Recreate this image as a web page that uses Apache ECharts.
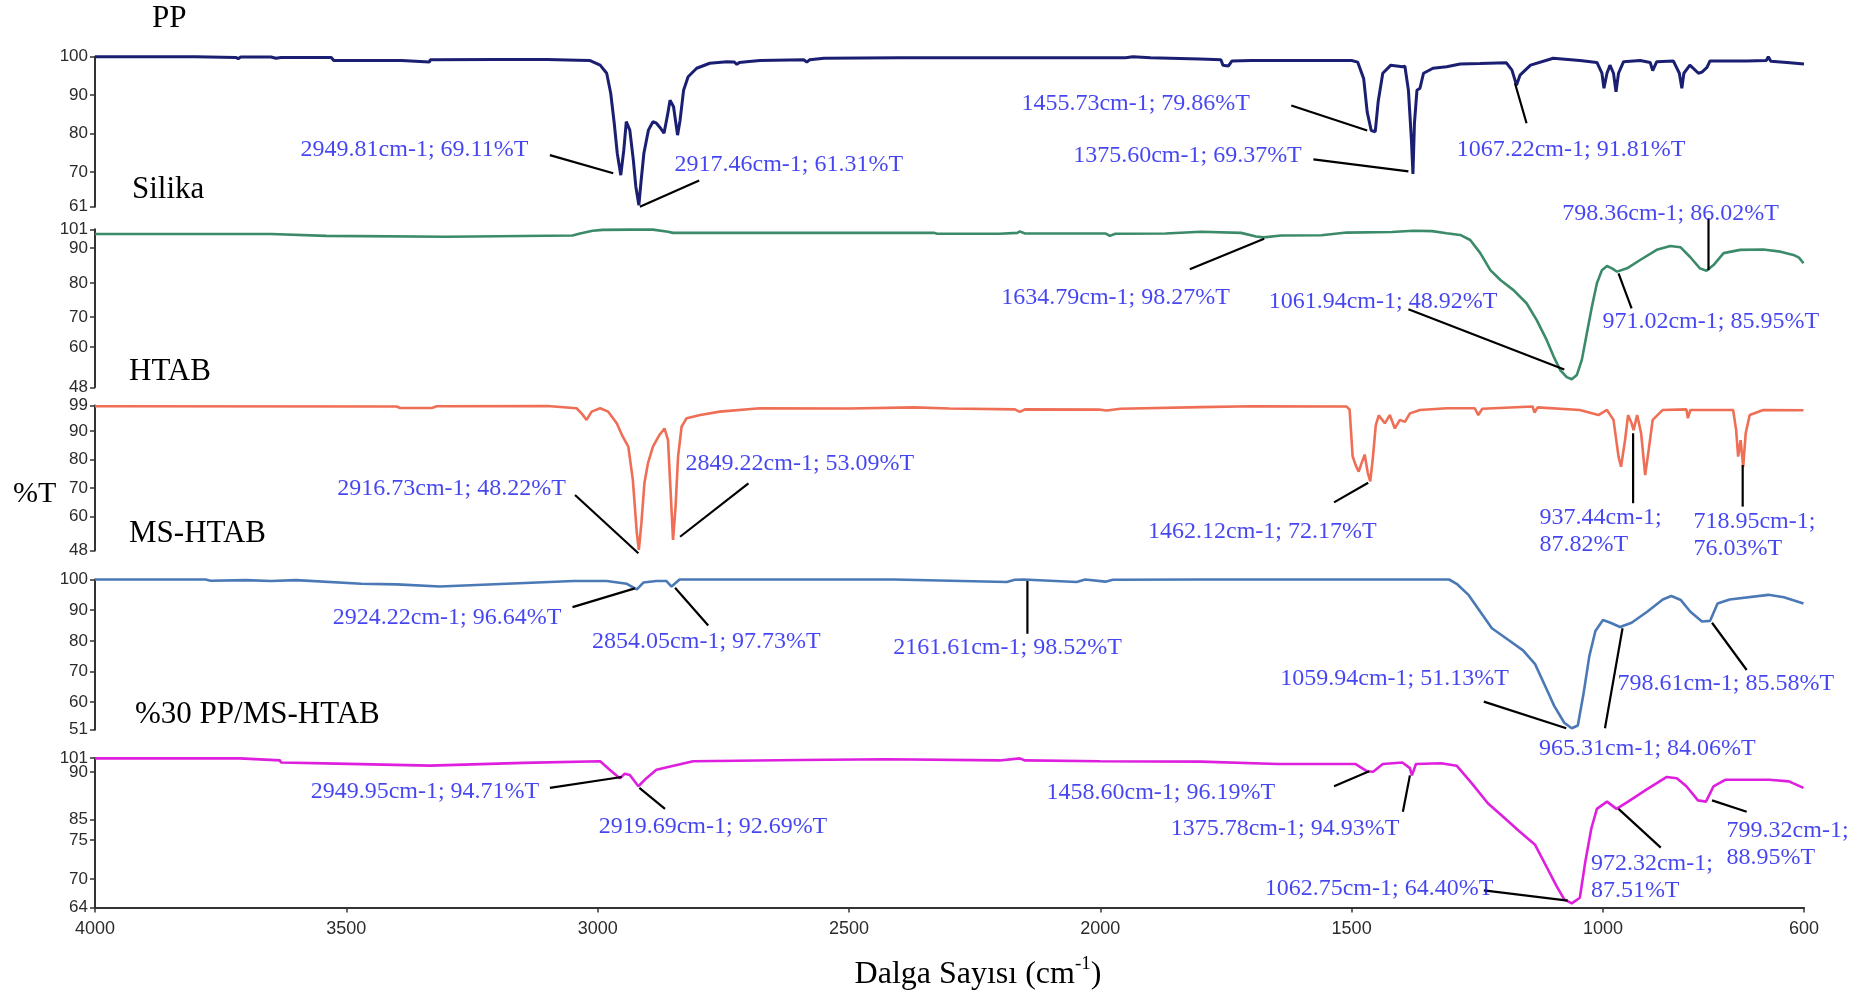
<!DOCTYPE html>
<html>
<head>
<meta charset="utf-8">
<title>FTIR</title>
<script src="https://cdn.jsdelivr.net/npm/echarts@6/dist/echarts.min.js"></script>
<style>
  html, body { margin: 0; padding: 0; background: #fff; }
  #chart { width: 1870px; height: 995px; }
</style>
</head>
<body>
<div id="chart"></div>
<script>
// [wavenumber cm-1, %T]
const ppData = [
  [4000, 100.0], [3800, 100.0], [3720, 99.8], [3715, 99.5], [3710, 99.9], [3650, 99.9], [3640, 99.6], [3630, 99.8],
  [3530, 99.8], [3525, 99.0], [3390, 99.0], [3388, 98.6], [3335, 98.6], [3333, 99.2], [3200, 99.3], [3100, 99.3],
  [3040, 99.1], [3015, 99.0], [2995, 97.8], [2982, 95.7], [2974, 90.5], [2967, 82.7], [2961, 74.9], [2954, 69.2],
  [2948, 75.7], [2943, 83.1], [2936, 80.9], [2929, 73.1], [2924, 66.2], [2918, 61.4], [2914, 67.1], [2908, 74.9],
  [2899, 80.9], [2890, 83.1], [2883, 82.7], [2876, 81.6], [2868, 80.1], [2861, 84.8], [2856, 88.7], [2849, 87.0],
  [2841, 79.6], [2836, 83.5], [2829, 91.3], [2820, 94.8], [2803, 97.0], [2777, 98.3], [2743, 98.7], [2728, 98.6],
  [2723, 98.0], [2718, 98.5], [2704, 98.7], [2677, 99.0], [2590, 99.2], [2584, 98.6], [2578, 99.2], [2550, 99.6],
  [2400, 99.7], [2200, 99.7], [1950, 99.7], [1935, 100.0], [1900, 99.7], [1802, 99.4], [1760, 99.2], [1756, 97.8],
  [1745, 97.6], [1738, 98.9], [1700, 99.0], [1600, 99.0], [1500, 99.0], [1488, 98.6], [1476, 94.3], [1469, 85.6],
  [1461, 80.8], [1453, 80.5], [1447, 88.5], [1438, 95.7], [1422, 97.8], [1399, 97.4], [1394, 97.5], [1387, 91.3],
  [1381, 78.3], [1378, 69.5], [1375, 82.7], [1370, 91.3], [1364, 91.8], [1357, 95.7], [1338, 97.0], [1311, 97.4],
  [1284, 98.1], [1245, 98.2], [1192, 98.4], [1181, 96.5], [1172, 92.6], [1165, 95.2], [1144, 97.8], [1099, 99.6],
  [1046, 99.0], [1012, 98.5], [1002, 95.7], [998, 91.8], [992, 95.7], [986, 97.8], [979, 95.7], [974, 90.9],
  [969, 95.7], [959, 98.7], [926, 99.0], [906, 98.5], [901, 96.4], [893, 98.7], [860, 98.9], [848, 95.7],
  [843, 91.8], [839, 95.7], [827, 97.8], [810, 95.7], [803, 96.0], [793, 97.2], [787, 98.9], [714, 98.9],
  [675, 99.0], [671, 100.0], [666, 98.8], [634, 98.5], [600, 98.1]
];
const silikaData = [
  [4000, 99.4], [3650, 99.4], [3648, 98.8], [3540, 98.8], [3539, 98.4], [3300, 98.5], [3050, 98.9], [3035, 99.6],
  [3010, 100.5], [2990, 100.8], [2936, 100.9], [2890, 100.9], [2860, 100.2], [2850, 99.8], [2600, 99.8], [2330, 99.8],
  [2325, 99.5], [2200, 99.5], [2165, 99.8], [2160, 100.3], [2150, 99.6], [1990, 99.6], [1981, 98.8], [1970, 99.5],
  [1870, 99.6], [1800, 100.2], [1720, 99.8], [1690, 98.6], [1675, 98.3], [1640, 98.9], [1560, 99.0], [1510, 99.9],
  [1420, 100.1], [1377, 100.5], [1340, 100.4], [1311, 99.7], [1284, 99.1], [1264, 97.4], [1244, 93.0], [1224, 87.3],
  [1204, 84.0], [1178, 80.6], [1152, 76.2], [1132, 70.6], [1112, 63.9], [1098, 58.3], [1085, 53.8], [1072, 51.4],
  [1062, 50.7], [1052, 52.1], [1042, 57.2], [1032, 66.1], [1022, 75.0], [1012, 82.9], [1002, 87.3], [992, 88.7],
  [982, 87.9], [972, 86.8], [952, 87.9], [926, 90.7], [893, 94.1], [866, 95.4], [846, 95.0], [827, 91.8],
  [807, 87.9], [794, 87.1], [780, 89.0], [760, 93.0], [727, 94.1], [681, 94.2], [647, 93.5], [621, 92.4],
  [610, 91.5], [601, 89.6]
];
const htabData = [
  [4000, 98.7], [3400, 98.6], [3393, 98.1], [3330, 98.1], [3320, 98.7], [3100, 98.8], [3042, 98.0], [3032, 96.2],
  [3022, 93.9], [3012, 96.8], [2995, 98.0], [2979, 96.8], [2962, 92.7], [2950, 88.0], [2939, 84.5], [2930, 72.8],
  [2922, 54.0], [2918, 48.2], [2913, 57.5], [2907, 71.6], [2900, 78.6], [2890, 84.5], [2877, 88.6], [2867, 90.9],
  [2860, 86.8], [2855, 69.2], [2850, 51.7], [2845, 63.4], [2840, 81.0], [2833, 91.5], [2823, 94.5], [2796, 95.6],
  [2757, 96.8], [2677, 98.0], [2500, 97.9], [2370, 98.3], [2300, 97.9], [2170, 97.6], [2160, 96.7], [2150, 97.6],
  [2000, 97.5], [1987, 97.2], [1960, 97.8], [1800, 98.4], [1700, 98.7], [1510, 98.6], [1504, 97.5], [1498, 81.1],
  [1492, 78.0], [1486, 75.7], [1480, 78.8], [1474, 81.7], [1468, 75.4], [1463, 72.3], [1458, 80.0], [1452, 92.0],
  [1446, 95.5], [1444, 96.2], [1434, 92.7], [1424, 95.6], [1414, 90.9], [1404, 93.9], [1394, 93.2], [1384, 96.2],
  [1364, 97.4], [1311, 98.0], [1255, 98.0], [1248, 95.6], [1240, 97.8], [1140, 98.6], [1136, 96.5], [1130, 98.3],
  [1046, 97.4], [1009, 95.6], [992, 97.4], [979, 93.9], [969, 81.0], [964, 77.4], [956, 86.8], [950, 95.6],
  [943, 92.7], [939, 90.3], [932, 95.6], [924, 89.2], [916, 74.5], [909, 83.3], [901, 93.9], [881, 97.4],
  [834, 97.6], [831, 94.5], [826, 97.4], [741, 97.4], [735, 90.3], [731, 81.0], [726, 86.8], [721, 77.4],
  [716, 89.2], [708, 95.6], [681, 97.4], [601, 97.3]
];
const msHtabData = [
  [4000, 100.0], [3780, 100.0], [3770, 99.6], [3700, 99.8], [3650, 99.5], [3600, 99.8], [3470, 98.6], [3400, 98.4],
  [3314, 97.7], [3181, 98.6], [3048, 99.5], [2982, 99.5], [2942, 98.6], [2922, 96.8], [2909, 99.0], [2883, 99.5],
  [2863, 99.5], [2853, 97.7], [2837, 100.0], [2600, 100.0], [2410, 100.0], [2186, 99.2], [2170, 99.9], [2153, 100.0],
  [2047, 99.2], [2030, 100.0], [1990, 99.3], [1975, 99.9], [1802, 100.0], [1306, 100.0], [1291, 98.6], [1267, 94.9],
  [1244, 89.5], [1221, 84.1], [1190, 80.5], [1159, 76.9], [1135, 72.4], [1112, 64.2], [1097, 58.8], [1077, 53.3],
  [1062, 51.5], [1050, 52.4], [1039, 62.4], [1027, 75.1], [1015, 83.2], [1000, 86.8], [985, 85.9], [966, 84.5],
  [943, 85.9], [912, 89.5], [881, 93.5], [864, 94.6], [845, 93.3], [826, 89.5], [803, 86.3], [787, 86.5],
  [772, 92.2], [748, 93.5], [671, 95.0], [640, 94.2], [601, 92.2]
];
const ppMsData = [
  [4000, 100.9], [3712, 100.9], [3710, 100.5], [3632, 100.4], [3630, 99.9], [3519, 99.6], [3334, 99.1], [3148, 99.8],
  [2995, 100.2], [2976, 98.1], [2956, 96.0], [2946, 97.1], [2936, 96.8], [2919, 94.0], [2903, 96.0], [2883, 98.1],
  [2849, 99.1], [2810, 100.2], [2597, 100.5], [2425, 100.7], [2200, 100.4], [2160, 100.9], [2150, 100.4], [2000, 100.2],
  [1800, 100.1], [1647, 99.5], [1492, 99.5], [1469, 97.7], [1457, 97.6], [1438, 99.5], [1399, 99.9], [1384, 98.5],
  [1380, 96.7], [1372, 99.5], [1322, 99.7], [1291, 99.1], [1260, 94.6], [1229, 89.8], [1198, 86.4], [1167, 82.9],
  [1135, 79.5], [1112, 74.0], [1092, 69.2], [1077, 66.0], [1062, 65.0], [1046, 66.4], [1035, 75.4], [1023, 83.6],
  [1012, 88.4], [992, 90.2], [973, 88.4], [950, 90.2], [912, 93.3], [873, 96.3], [853, 96.0], [834, 94.0],
  [811, 90.5], [795, 90.2], [780, 94.0], [757, 95.6], [669, 95.6], [630, 95.2], [601, 93.6]
];

// y ranges and tick labels of each panel (labels sit where the original prints them)
const yRanges = [[61, 100], [48, 101], [48, 99], [51, 100], [64, 101]];
const yTickText = [
  ['100', '90', '80', '70', '61'],
  ['101', '90', '80', '70', '60', '48'],
  ['99', '90', '80', '70', '60', '48'],
  ['100', '90', '80', '70', '60', '51'],
  ['101', '90', '85', '75', '70', '64']
];
const yTickAt = [
  [100, 90, 80, 70, 61],
  [101, 94.7, 83.0, 71.6, 61.5, 48],
  [99, 90, 80, 70, 60, 48],
  [100, 90, 80, 70, 60, 51],
  [101, 97.5, 85.7, 80.7, 71.0, 64]
];
const xTicks = [4000, 3500, 3000, 2500, 2000, 1500, 1000, 600];
const panelNames = ['PP', 'Silika', 'HTAB', 'MS-HTAB', '%30 PP/MS-HTAB'];

// peak annotations: text, where the text starts, leader line [x1, y1, x2, y2] (axis units)
const ppNotes = ['2949.81cm-1; 69.11%T', '2917.46cm-1; 61.31%T', '1455.73cm-1; 79.86%T', '1375.60cm-1; 69.37%T', '1067.22cm-1; 91.81%T'];
const ppNoteAt = [[3592, 75.7], [2848, 71.8], [2158, 87.8], [2055, 74.3], [1292, 75.9]];
const ppLeaders = [[3095, 74.4, 2969, 69.7], [2916, 61.0, 2798, 67.8], [1620, 87.3, 1469, 80.8], [1576, 73.3, 1387, 70.2], [1152, 82.7, 1175, 93.1]];

const silikaNotes = ['1634.79cm-1; 98.27%T', '1061.94cm-1; 48.92%T', '971.02cm-1; 85.95%T', '798.36cm-1; 86.02%T'];
const silikaNoteAt = [[2198, 78.0], [1666, 76.6], [1002, 70.0], [1082, 106.1]];
const silikaLeaders = [[1822, 87.6, 1674, 97.8], [1387, 74.2, 1077, 54.0], [969, 86.2, 943, 74.5], [790, 104.7, 790, 87.3]];

const htabNotes = ['2916.73cm-1; 48.22%T', '2849.22cm-1; 53.09%T', '1462.12cm-1; 72.17%T', '937.44cm-1;\n87.82%T', '718.95cm-1;\n76.03%T'];
const htabNoteAt = [[3519, 69.8], [2826, 78.6], [1906, 54.5], [1127, 54.6], [821, 53.2]];
const htabLeaders = [[3045, 67.5, 2919, 47.0], [2836, 52.8, 2700, 71.6], [1535, 64.9, 1467, 71.8], [940, 89.2, 940, 64.6], [722, 78.0, 722, 63.4]];

const msHtabNotes = ['2924.22cm-1; 96.64%T', '2854.05cm-1; 97.73%T', '2161.61cm-1; 98.52%T', '1059.94cm-1; 51.13%T', '965.31cm-1; 84.06%T', '798.61cm-1; 85.58%T'];
const msHtabNoteAt = [[3528, 87.7], [3012, 79.6], [2413, 77.8], [1643, 67.5], [1128, 44.7], [972, 66.0]];
const msHtabLeaders = [[3050, 91.0, 2926, 97.1], [2846, 97.3, 2780, 85.0], [2145, 99.5, 2145, 82.3], [1237, 60.2, 1073, 51.5], [996, 51.5, 961, 84.1], [783, 85.9, 714, 70.5]];

const ppMsNotes = ['2949.95cm-1; 94.71%T', '2919.69cm-1; 92.69%T', '1458.60cm-1; 96.19%T', '1375.78cm-1; 94.93%T', '1062.75cm-1; 64.40%T', '972.32cm-1;\n87.51%T', '799.32cm-1;\n88.95%T'];
const ppMsNoteAt = [[3572, 92.6], [2999, 83.9], [2108, 92.3], [1861, 83.6], [1674, 68.7], [1025, 71.4], [755, 79.7]];
const ppMsLeaders = [[3095, 93.6, 2952, 96.3], [2917, 93.6, 2866, 88.4], [1535, 94.0, 1465, 97.7], [1398, 87.7, 1384, 96.7], [1237, 68.2, 1070, 65.7], [969, 88.4, 885, 78.8], [783, 90.5, 714, 87.7]];

const serif = '"Liberation Serif", "Times New Roman", serif';
const sans = '"Liberation Sans", Arial, sans-serif';

const panels = [
  { data: ppData, color: '#1b1f72', width: 3, notes: ppNotes, noteAt: ppNoteAt, leaders: ppLeaders, top: 56.7, height: 150, titleX: 152, titleY: 19 },
  { data: silikaData, color: '#3b8a69', width: 2.6, notes: silikaNotes, noteAt: silikaNoteAt, leaders: silikaLeaders, top: 229.3, height: 158, titleX: 132, titleY: 190 },
  { data: htabData, color: '#ef6e56', width: 2.6, notes: htabNotes, noteAt: htabNoteAt, leaders: htabLeaders, top: 405.4, height: 145, titleX: 129, titleY: 372 },
  { data: msHtabData, color: '#4a79b6', width: 2.6, notes: msHtabNotes, noteAt: msHtabNoteAt, leaders: msHtabLeaders, top: 579.5, height: 150.3, titleX: 129, titleY: 534 },
  { data: ppMsData, color: '#de1fde', width: 2.6, notes: ppMsNotes, noteAt: ppMsNoteAt, leaders: ppMsLeaders, top: 758, height: 149.4, titleX: 135, titleY: 715 }
];

const chart = echarts.init(document.getElementById('chart'));

const grid = [];
const xAxis = [];
const yAxis = [];
const series = [];

// the y labels of one panel are split over two stacked axes (even / odd), so
// labels printed close together in the original are all kept
function yAxisPart(i, at, txt, withLine) {
  return {
    gridIndex: i,
    type: 'value',
    position: 'left',
    min: yRanges[i][0],
    max: yRanges[i][1],
    axisLine: { show: withLine, onZero: false, lineStyle: { color: '#333', width: 2 } },
    axisTick: { show: true, length: 5, customValues: at, lineStyle: { color: '#333', width: 1.5 } },
    axisLabel: {
      customValues: at,
      showMinLabel: true,
      showMaxLabel: true,
      hideOverlap: false,
      color: '#2b2b2b',
      fontFamily: sans,
      fontSize: 17,
      margin: 7,
      formatter: function (v) {
        let k = 0;
        at.forEach((a, j) => { if (Math.abs(a - v) < Math.abs(at[k] - v)) k = j; });
        return txt[k];
      }
    },
    splitLine: { show: false }
  };
}

panels.forEach((p, i) => {
  const last = i === panels.length - 1;
  grid.push({ left: 95, right: 66, top: p.top, height: p.height });
  xAxis.push({
    gridIndex: i,
    type: 'value',
    min: 600,
    max: 4000,
    inverse: true,
    show: last,
    axisLine: { show: true, lineStyle: { color: '#333', width: 2 } },
    axisTick: { show: true, length: 5, customValues: xTicks, lineStyle: { color: '#333', width: 1.5 } },
    axisLabel: {
      customValues: xTicks,
      showMinLabel: true,
      showMaxLabel: true,
      hideOverlap: false,
      formatter: v => String(v),
      color: '#2b2b2b',
      fontFamily: sans,
      fontSize: 18,
      margin: 13
    },
    splitLine: { show: false }
  });
  const at = yTickAt[i];
  const txt = yTickText[i];
  const even = at.map((a, k) => k).filter(k => k % 2 === 0);
  const odd = at.map((a, k) => k).filter(k => k % 2 === 1);
  yAxis.push(yAxisPart(i, even.map(k => at[k]), even.map(k => txt[k]), true));
  yAxis.push(yAxisPart(i, odd.map(k => at[k]), odd.map(k => txt[k]), false));

  series.push({
    name: panelNames[i],
    type: 'line',
    xAxisIndex: i,
    yAxisIndex: i * 2,
    data: p.data,
    symbol: 'none',
    clip: false,
    lineStyle: { color: p.color, width: p.width },
    z: 2
  });
  p.leaders.forEach(l => {
    series.push({
      type: 'line',
      xAxisIndex: i,
      yAxisIndex: i * 2,
      data: [[l[0], l[1]], [l[2], l[3]]],
      symbol: 'none',
      clip: false,
      lineStyle: { color: '#000', width: 2.2 },
      z: 3
    });
  });
  series.push({
    type: 'scatter',
    xAxisIndex: i,
    yAxisIndex: i * 2,
    symbolSize: 1,
    clip: false,
    itemStyle: { color: 'rgba(0,0,0,0)' },
    data: p.noteAt.map((a, k) => ({ value: a, name: p.notes[k] })),
    label: {
      show: true,
      position: 'right',
      distance: 0,
      formatter: d => d.name,
      color: '#1717ee',
      fontFamily: serif,
      fontSize: 24,
      lineHeight: 27
    },
    z: 4
  });
});

const graphic = panels.map((p, i) => ({
  type: 'text',
  x: p.titleX,
  y: p.titleY,
  style: { text: panelNames[i], fill: '#000', font: '31px ' + serif, verticalAlign: 'middle' }
}));
graphic.push({
  type: 'text',
  x: 13,
  y: 494,
  style: { text: '%T', fill: '#000', font: '30px ' + serif, verticalAlign: 'middle' }
});
graphic.push({
  type: 'text',
  x: 978,
  y: 975,
  style: {
    text: '{a|Dalga Sayısı (cm}{s|-1}{a|)}',
    align: 'center',
    verticalAlign: 'middle',
    rich: {
      a: { fontFamily: serif, fontSize: 32, lineHeight: 40, fill: '#000' },
      s: { fontFamily: serif, fontSize: 19, lineHeight: 19, verticalAlign: 'top', fill: '#000' }
    }
  }
});

chart.setOption({
  backgroundColor: '#fff',
  animation: false,
  grid: grid,
  xAxis: xAxis,
  yAxis: yAxis,
  series: series,
  graphic: graphic
});

window.addEventListener('resize', () => chart.resize());
</script>
</body>
</html>
